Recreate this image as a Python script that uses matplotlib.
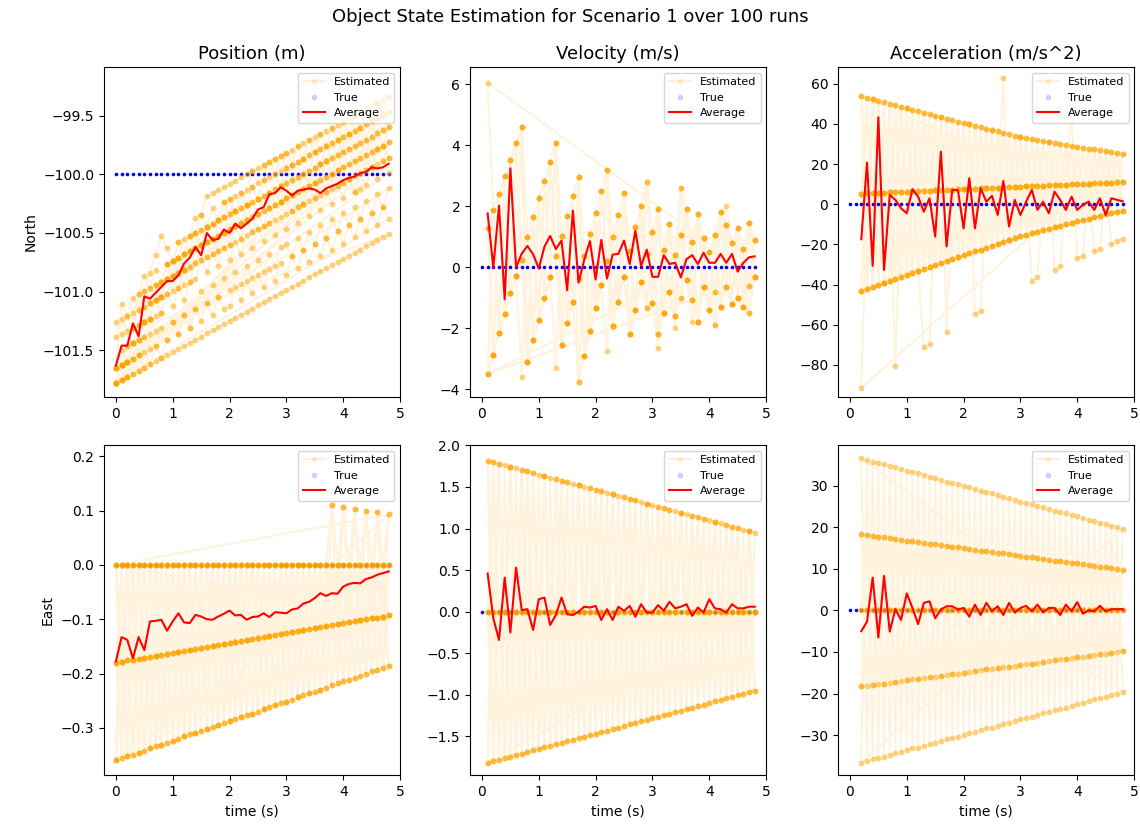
import matplotlib
matplotlib.use("Agg")
import matplotlib.pyplot as plt
from matplotlib.lines import Line2D

# ---------------- data ----------------
time_s = [0.0, 0.1, 0.2, 0.3, 0.4, 0.5, 0.6, 0.7, 0.8, 0.9, 1.0, 1.1, 1.2, 1.3, 1.4, 1.5, 1.6,
          1.7, 1.8, 1.9, 2.0, 2.1, 2.2, 2.3, 2.4, 2.5, 2.6, 2.7, 2.8, 2.9, 3.0, 3.1, 3.2, 3.3,
          3.4, 3.5, 3.6, 3.7, 3.8, 3.9, 4.0, 4.1, 4.2, 4.3, 4.4, 4.5, 4.6, 4.7, 4.8]
t_vel = time_s[1:]
t_acc = time_s[2:]

# averages (red)
pn_avg = [-101.63, -101.46, -101.46, -101.27, -101.38, -101.04, -101.06, -101.01, -100.96, -100.91,
          -100.91, -100.86, -100.76, -100.71, -100.62, -100.69, -100.50, -100.56, -100.55, -100.47,
          -100.50, -100.42, -100.46, -100.42, -100.38, -100.30, -100.28, -100.17, -100.16, -100.11,
          -100.14, -100.18, -100.14, -100.13, -100.12, -100.13, -100.16, -100.12, -100.10, -100.08,
          -100.05, -100.03, -100.02, -99.99, -99.98, -99.94, -99.95, -99.94, -99.91]
vn_avg = [1.77, 0.0, 2.02, -1.05, 3.25, 0.0, 0.45, 0.70, 0.43, -0.04, 0.68, 1.03, 0.60, 0.88, -0.75,
          1.86, -0.50, 0.25, 0.86, -0.40, 0.90, -0.37, 0.42, 0.44, 0.88, 0.11, 1.20, 0.04, 0.58,
          -0.31, -0.31, 0.40, 0.11, 0.15, -0.33, 0.27, 0.40, 0.11, 0.48, 0.15, 0.15, 0.44, 0.15,
          0.44, -0.14, 0.15, 0.33, 0.36]
an_avg = [-17.4, 20.8, -30.7, 43.4, -32.7, 4.7, 2.2, -2.0, -4.5, 7.5, 3.8, -3.7, 3.0, -16.1, 26.2,
          -21.0, 7.1, 7.1, -12.0, 13.0, -12.0, 8.0, 1.3, 4.2, -5.3, 11.6, -11.1, 2.2, -5.3, 1.3,
          7.1, -2.8, 1.3, -4.5, 6.3, 2.2, -2.8, 3.8, -2.8, -0.3, 1.3, -2.8, 3.0, -5.3, 3.0, 2.2, 1.5]
pe_avg = [-0.178, -0.133, -0.138, -0.172, -0.133, -0.157, -0.104, -0.103, -0.101, -0.121,
          -0.104, -0.089, -0.106, -0.107, -0.092, -0.095, -0.100, -0.101, -0.095, -0.090,
          -0.084, -0.093, -0.092, -0.101, -0.096, -0.095, -0.089, -0.096, -0.087, -0.088,
          -0.089, -0.082, -0.080, -0.071, -0.068, -0.061, -0.052, -0.057, -0.052, -0.053,
          -0.040, -0.035, -0.033, -0.034, -0.026, -0.023, -0.018, -0.015, -0.012]
ve_avg = [0.46, -0.08, -0.34, 0.41, -0.25, 0.53, 0.02, 0.03, -0.22, 0.15, 0.17, -0.16, -0.04, 0.17,
          -0.03, -0.04, 0.0, 0.06, 0.05, 0.07, -0.10, 0.03, -0.10, 0.06, 0.01, 0.07, -0.06, 0.09,
          -0.01, -0.01, 0.08, 0.01, 0.12, 0.04, 0.06, 0.09, -0.05, 0.05, -0.01, 0.15, 0.04, 0.03,
          -0.01, 0.09, 0.04, 0.04, 0.06, 0.06]
ae_avg = [-5.0, -2.7, 7.9, -6.5, 8.3, -5.1, 0.3, -2.3, 4.1, 0.6, -3.3, 1.8, 2.2, -1.9, 0.2, 1.0,
          1.0, 0.2, 0.6, -1.5, 1.4, -1.1, 1.8, -0.2, 1.0, -1.1, 1.8, -0.5, 0.6, 1.1, -0.2, 1.4,
          -0.5, 0.6, 0.6, -1.1, 1.4, -0.2, 2.0, -0.8, 0.0, -0.2, 1.1, -0.2, 0.3, 0.3, 0.3]

# true values
pn_true = [-100.0] * 49
zero_true = [0.0] * 49

# level rows on which the estimated dots sit
pn_base = [-101.780, -101.754, -101.727, -101.701, -101.674, -101.648, -101.621, -101.595, -101.568,
           -101.542, -101.515, -101.489, -101.462, -101.436, -101.409, -101.383, -101.356, -101.330,
           -101.303, -101.277, -101.250, -101.224, -101.197, -101.171, -101.144, -101.118, -101.091,
           -101.065, -101.038, -101.012, -100.985, -100.959, -100.932, -100.906, -100.879, -100.853,
           -100.826, -100.800, -100.773, -100.747, -100.720, -100.694, -100.667, -100.641, -100.614,
           -100.588, -100.561, -100.535, -100.508]
pn_row_step = 0.13

vn_up = [1.28, 1.88, 2.40, 2.99, 3.52, 4.09, 4.60, 1.00, 1.66, 2.26, 2.83, 3.45, 4.09, 1.03, 1.69,
         2.34, 2.97, 0.37, 1.09, 1.79, 2.51, 3.19, 1.00, 1.72, 2.45, 0.55, 1.33, 2.00, 0.45, 1.15,
         1.90, 0.57, 1.42, 0.40, 1.06, 1.93, 0.84, 1.75, 0.95, 0.50, 1.06, 1.83, 1.39, 0.79, 1.30,
         0.60, 1.45, 0.90]
vn_lo = [-3.50, -2.87, -2.14, -1.53, -0.83, -0.28, 0.25, -3.10, -2.38, -1.73, -1.02, -0.33, 0.37,
         -2.55, -1.84, -1.13, -0.39, -2.90, -2.10, -1.34, -0.58, 0.22, -1.92, -1.13, -0.30, -2.20,
         -1.40, -0.47, -1.34, -1.18, -2.20, -1.50, -0.80, -1.60, -1.00, -0.40, -1.07, -1.80, -0.63,
         -1.40, -0.80, -1.30, -0.63, -1.20, -1.00, -1.29, -0.60, -0.30]
vn_out = [6.05, -2.87, -2.14, -1.53, -0.83, -0.28, -3.60, -3.10, -2.38, -1.73, -1.02, -0.33, -3.30,
          -2.55, -1.84, -1.13, -3.75, 3.60, -2.10, -1.34, -0.58, -2.74, -1.92, -1.13, -0.30, -2.20,
          3.85, -0.47, 2.80, -1.18, -2.66, -1.50, -0.80, -2.00, 2.60, -0.40, -1.80, -1.80, 2.30,
          -1.40, -1.90, -1.30, 2.00, -1.20, -1.70, -1.29, -1.50, 2.20]

an_mid = [5.3, 5.4, 5.5, 5.7, 5.8, 5.9, 6.0, 6.2, 6.3, 6.4, 6.5, 6.7, 6.8, 6.9, 7.0, 7.2, 7.3, 7.4,
          7.5, 7.7, 7.8, 7.9, 8.0, 8.2, 8.3, 8.4, 8.5, 8.7, 8.8, 8.9, 9.0, 9.2, 9.3, 9.4, 9.5, 9.7,
          9.8, 9.9, 10.0, 10.2, 10.3, 10.4, 10.5, 10.7, 10.8, 10.9, 11.0]
an_top = [53.8, 53.0, 52.3, 51.5, 50.8, 50.0, 49.3, 48.5, 47.8, 47.1, 46.3, 45.6, 44.9, 44.2, 43.4,
          42.7, 42.0, 41.2, 40.5, 39.8, 39.1, 38.4, 37.7, 37.0, 36.3, 35.6, 34.9, 34.2, 33.5, 33.0,
          32.5, 32.0, 31.5, 31.0, 30.5, 30.0, 29.5, 29.0, 28.5, 28.1, 27.7, 27.3, 26.9, 26.4, 26.0,
          25.6, 25.2]

pe_row = [-0.180, -0.178, -0.176, -0.175, -0.173, -0.171, -0.169, -0.167, -0.166, -0.164, -0.162,
          -0.160, -0.158, -0.156, -0.155, -0.153, -0.151, -0.149, -0.147, -0.146, -0.144, -0.142,
          -0.140, -0.138, -0.137, -0.135, -0.133, -0.131, -0.129, -0.127, -0.126, -0.124, -0.122,
          -0.120, -0.118, -0.117, -0.115, -0.113, -0.111, -0.109, -0.107, -0.106, -0.104, -0.102,
          -0.100, -0.098, -0.097, -0.095, -0.093]
ve_row = [1.815, 1.797, 1.778, 1.760, 1.741, 1.723, 1.705, 1.686, 1.668, 1.649, 1.631, 1.613, 1.594,
          1.576, 1.557, 1.539, 1.521, 1.502, 1.484, 1.465, 1.447, 1.429, 1.410, 1.392, 1.373, 1.355,
          1.337, 1.318, 1.300, 1.281, 1.263, 1.245, 1.226, 1.208, 1.189, 1.171, 1.153, 1.134, 1.116,
          1.097, 1.079, 1.061, 1.042, 1.024, 1.005, 0.987, 0.969, 0.950]
ae_row = [18.3, 18.1, 17.9, 17.7, 17.6, 17.4, 17.2, 17.0, 16.8, 16.6, 16.5, 16.3, 16.1, 15.9, 15.7,
          15.5, 15.3, 15.2, 15.0, 14.8, 14.6, 14.4, 14.2, 14.1, 13.9, 13.7, 13.5, 13.3, 13.1, 12.9,
          12.8, 12.6, 12.4, 12.2, 12.0, 11.8, 11.7, 11.5, 11.3, 11.1, 10.9, 10.7, 10.5, 10.4, 10.2,
          10.0, 9.8]

# which row each sample run visits at each time step
pn_patterns = [
    "0101232345" "4545656565" "6767676767" "7878787878" "787878787",
    "1012123434" "5454565656" "5656767676" "6565656565" "656565656",
    "0012334545" "6565676767" "8787878989" "8989898989" "898989898",
    "4343545456" "5656767678" "7878989898" "9898989898" "989898989",
    "0101010101" "2121232323" "2323232323" "3232323232" "323232323",
    "1213243546" "5656767676" "7676767676" "7676767676" "767676767",
    "0000000000" "0000000000" "0000000000" "0000000000" "000000000",
    "3434565656" "6767787878" "8787878787" "8787878787" "878787878",
    "0101123234" "3434454545" "4545454545" "4545454545" "454545454",
    "1010101121" "2121212121" "1212121212" "1212121212" "121212121",
    "0123456787" "6767676767" "6767676767" "6767676767" "676767676",
    "1545454545" "5656565656" "5656565656" "5656565656" "565656565",
    "1122334455" "6677889999" "9999999999" "9898989898" "989898989",
    "0112233445" "5566667777" "6666555566" "6655667766" "554455665",
]
vn_patterns = ["ul", "lu", "u", "l", "oul", "uol", "lou"]
an_patterns = ["tl", "lt", "ml", "lm", "mt", "m", "l", "tm",
               "xmtmlmxmtmlxxmtxmlmtxxmtmslmtmxxmtxxmsxxmxxmxxx"]
pe_patterns = ["AC", "CA", "AB", "BA", "BC", "A", "B",
               "CA" * 19 + "DA" * 5 + "D",
               "AB" * 19 + "DB" * 5 + "D",
               "CB"]
ve_patterns = ["UL", "LU", "UZ", "ZL", "Z", "LZ", "ZUZ"]
ae_patterns = ["bc", "cb", "z", "zb", "cz", "ad", "da", "bz"]


def fit(p, n):
    return (p * (n // len(p) + 1))[:n]


def draw(ax, t_est, bands, patterns, avg_t, avg, true_y, title=None):
    n = len(t_est)
    runs = []
    for p in patterns:
        p = fit(p, n)
        runs.append([bands[c][i] for i, c in enumerate(p)])
    ax.plot(time_s, true_y, "o", color="blue", ms=2.6, mew=0, zorder=2)
    tt, yy = [], []
    for r in runs:
        tt += list(t_est)
        yy += r
    ax.plot(tt, yy, "-", color="orange", alpha=0.13, lw=1.5, zorder=1)
    for r in runs:
        ax.plot(t_est, r, "o", color="orange", alpha=0.5, ms=4.2, mew=0, zorder=3)
    ax.plot(avg_t, avg, "-", color="red", lw=1.5, zorder=4)
    handles = [Line2D([], [], color="orange", marker=".", alpha=0.15, lw=1.5),
               Line2D([], [], color="blue", marker=".", ls="none", alpha=0.15),
               Line2D([], [], color="red", lw=1.5)]
    ax.legend(handles, ["Estimated", "True", "Average"], loc="upper right", fontsize=8)
    if title:
        ax.set_title(title, fontsize=13)
    ax.set_xlim(-0.21, 5.0)


fig = plt.figure(figsize=(11.4, 8.25), dpi=100)
lefts = [0.0912, 0.4123, 0.7351]
w = 0.2597
axes = [[fig.add_axes([l, 0.5188, w, 0.4]) for l in lefts],
        [fig.add_axes([l, 0.0606, w, 0.4]) for l in lefts]]

# North position
pn_bands = {str(k): [b + k * pn_row_step for b in pn_base] for k in range(10)}
draw(axes[0][0], time_s, pn_bands, pn_patterns, time_s, pn_avg, pn_true, "Position (m)")
axes[0][0].set_ylim(-101.898, -99.085)
axes[0][0].set_ylabel("North")

# North velocity
vn_bands = {"u": vn_up, "l": vn_lo, "o": vn_out}
draw(axes[0][1], t_vel, vn_bands, vn_patterns, t_vel, vn_avg, zero_true, "Velocity (m/s)")
axes[0][1].set_ylim(-4.25, 6.57)

# North acceleration
an_bands = {"m": an_mid, "t": an_top,
            "l": [2 * m - t for m, t in zip(an_mid, an_top)],
            "x": [3 * m - 2 * t for m, t in zip(an_mid, an_top)],
            "s": [2 * t - m for m, t in zip(an_mid, an_top)]}
draw(axes[0][2], t_acc, an_bands, an_patterns, t_acc, an_avg, zero_true, "Acceleration (m/s^2)")
axes[0][2].set_ylim(-96.0, 68.4)

# East position
pe_bands = {"A": [0.0] * 49, "B": pe_row, "C": [2 * v for v in pe_row], "D": [-v for v in pe_row]}
draw(axes[1][0], time_s, pe_bands, pe_patterns, time_s, pe_avg, zero_true)
axes[1][0].set_ylim(-0.387, 0.221)
axes[1][0].set_ylabel("East")

# East velocity
ve_bands = {"U": ve_row, "Z": [0.0] * 48, "L": [-v for v in ve_row]}
draw(axes[1][1], t_vel, ve_bands, ve_patterns, t_vel, ve_avg, zero_true)
axes[1][1].set_ylim(-1.963, 2.004)

# East acceleration
ae_bands = {"a": [2 * v for v in ae_row], "b": ae_row, "z": [0.0] * 47,
            "c": [-v for v in ae_row], "d": [-2 * v for v in ae_row]}
draw(axes[1][2], t_acc, ae_bands, ae_patterns, t_acc, ae_avg, zero_true)
axes[1][2].set_ylim(-39.6, 39.8)

for ax in axes[1]:
    ax.set_xlabel("time (s)")

fig.suptitle("Object State Estimation for Scenario 1 over 100 runs", fontsize=13, y=0.99, va="top")
fig.savefig("out.png", dpi=100)
